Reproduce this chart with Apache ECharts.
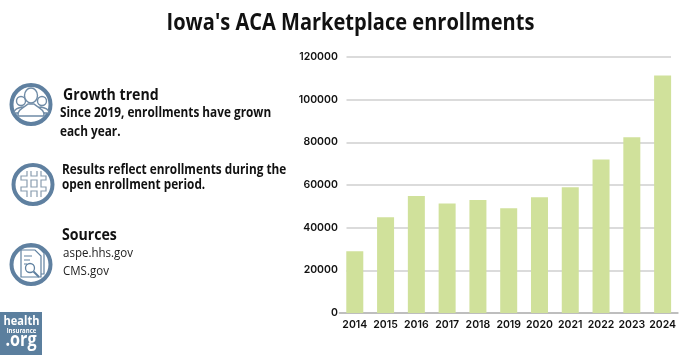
<!DOCTYPE html>
<html><head><meta charset="utf-8">
<script src="https://cdn.jsdelivr.net/npm/echarts@6/dist/echarts.min.js"></script>
<style>html,body{margin:0;padding:0;background:#fff}#c{width:700px;height:355px}</style></head>
<body><div id="c"></div>
<script>
const years=['2014','2015','2016','2017','2018','2019','2020','2021','2022','2023','2024'];
const enrollments=[28900,44900,54900,51300,53000,49100,54200,58900,72000,82400,111300];
const titleText="Iowa's ACA Marketplace enrollments";
const SANS='"Open Sans"';
const BLUE='#5f80a0';
const ICON='#6f8ba6';
function txt(x,y,t,size,weight,color,sx){return {type:'text',x:x,y:y,z:10,scaleX:sx||0.843,style:{text:t,font:(weight||700)+' '+size+'px '+SANS,fill:color||'#111',textVerticalAlign:'middle'}};}
function ctxt(x,y,t,size,sx,color){return {type:'text',x:x,y:y,z:11,scaleX:sx,style:{text:t,font:'700 '+size+'px '+SANS,fill:color||'#fff',textAlign:'center',textVerticalAlign:'middle'}};}
function ring(cx,cy){return {type:'circle',z:10,shape:{cx:cx,cy:cy,r:19.5},style:{fill:'#fff',stroke:BLUE,lineWidth:4}};}
let pathCount=0;
function ln(d,o){
  const name='iconPath'+(pathCount++);
  echarts.graphic.registerShape(name,echarts.graphic.extendPath(d));
  return {type:name,z:11,style:Object.assign({fill:'none',stroke:ICON,lineWidth:1},o||{})};
}
const g=[
 {type:'rect',z:9,shape:{x:339,y:50,width:7.5,height:262},style:{fill:'#fff'}},
 {type:'rect',z:9,shape:{x:671,y:50,width:12,height:262},style:{fill:'#fff'}},
 ctxt(350.5,23,titleText,24,0.835,'#111'),
 ring(31,104.5),ring(33,184.5),ring(31,264.5),
 // group icon
 {type:'circle',z:11,shape:{cx:21,cy:101,r:4.5},style:{fill:'#fff',stroke:ICON,lineWidth:1.4}},
 {type:'circle',z:11,shape:{cx:42,cy:101,r:4.5},style:{fill:'#fff',stroke:ICON,lineWidth:1.4}},
 ln('M14 113 C14 109 18 108 22 107 L28 108 L28 113 Z',{fill:'#fff',lineWidth:1.4}),
 ln('M49 113 C49 109 45 108 41 107 L35 108 L35 113 Z',{fill:'#fff',lineWidth:1.4}),
 {type:'ellipse',z:12,shape:{cx:31,cy:95.5,rx:6.5,ry:7.5},style:{fill:'#fff',stroke:ICON,lineWidth:1.4}},
 ln('M18 116 C17 110 23 108 28 104 L34 104 C39 108 45 110 44 116 Z',{fill:'#fff',lineWidth:1.4}),
 // hash icon
 ln('M27 171 L27 176 L21 176 L21 180 L27 180 L27 187 L21 187 L21 191 L27 191 L27 197 M31 171 L31 176 L37 176 L37 171 M41 171 L41 176 L46 176 L46 180 L41 180 L41 187 L46 187 L46 191 L41 191 L41 197 M31 197 L31 191 L37 191 L37 197 M31 180 L37 180 L37 187 L31 187 Z',{stroke:'#8a9db0',lineWidth:1.2}),
 // document icon
 ln('M24 247 L38 247 L44 253 L44 274 L41 274',{stroke:BLUE,lineWidth:1.2}),
 ln('M21 250 L35 250 L41 256 L41 277 L21 277 Z',{fill:'#fff',stroke:BLUE,lineWidth:1.2}),
 ln('M24 256 L32 256 M24 260 L30 260 M24 264 L27 264',{stroke:BLUE,lineWidth:1.2}),
 {type:'circle',z:12,shape:{cx:30,cy:268,r:4.5},style:{fill:'#fff',stroke:BLUE,lineWidth:1.3}},
 ln('M33.5 271.5 L39 277',{stroke:BLUE,lineWidth:2}),
 // left column text
 txt(63,95,'Growth trend',16.5,700,'#111',0.856),
 txt(60,113.5,'Since 2019, enrollments have grown',14),
 txt(60,132,'each year.',14),
 txt(62,170.5,'Results reflect enrollments during the',14),
 txt(62,185.5,'open enrollment period.',14),
 txt(62,235,'Sources',16.5,700,'#111',0.856),
 txt(63,253.5,'aspe.hhs.gov',13.5,400,'#222',0.853),
 txt(63,271,'CMS.gov',13.5,400,'#222',0.853),
 // logo
 {type:'rect',z:10,shape:{x:0,y:312,width:42,height:43},style:{fill:'#5b7f9e'}},
 ctxt(21.5,321,'health',13,0.85),
 ctxt(21.5,331,'insurance',7.5,0.8),
 ctxt(21,341,'.org',19,0.85)
];
const chart=echarts.init(document.getElementById('c'),null,{renderer:'canvas'});
chart.setOption({
 animation:false,
 backgroundColor:'#fff',
 grid:{left:339.4,right:22,top:57,bottom:42,containLabel:false},
 xAxis:{type:'category',data:years,axisTick:{show:false},
   axisLine:{lineStyle:{color:'#b5b5b5',width:1.5}},
   axisLabel:{margin:6,interval:0,color:'#111',fontFamily:'Inter',fontWeight:600,fontSize:10.5}},
 yAxis:{type:'value',min:0,max:120000,interval:20000,axisLine:{show:false},axisTick:{show:false},
   splitLine:{lineStyle:{color:'#cfcfcf',width:1.5}},
   axisLabel:{margin:1.5,formatter:function(v){return String(v);},color:'#111',fontFamily:'Inter',fontWeight:600,fontSize:10.5}},
 series:[{type:'bar',data:enrollments,barWidth:17,z:20,itemStyle:{color:'#d0e19b'}}],
 graphic:{elements:g}
});
</script></body></html>
